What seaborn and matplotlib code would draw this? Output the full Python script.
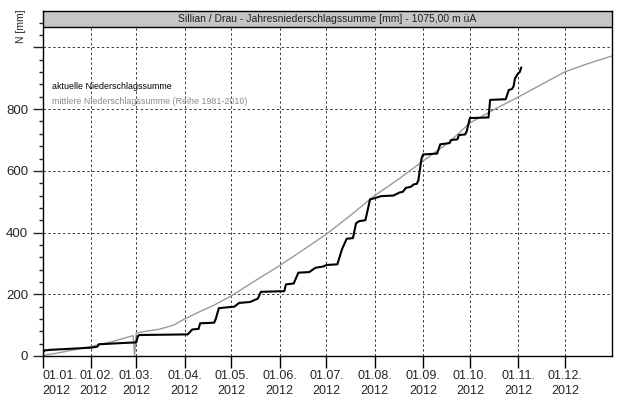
import pandas as pd
import seaborn as sns
import matplotlib.pyplot as plt
from matplotlib.patches import Rectangle
from matplotlib.transforms import ScaledTranslation

# day offsets from 01.01.2012 and cumulative sums in mm
actual_days = [0, 1, 5, 31, 35, 36, 55, 60, 61, 62, 93, 96, 100, 101, 110, 111, 113,
               123, 126, 133, 138, 140, 155, 156, 161, 164, 171, 175, 180, 182, 189,
               192, 195, 199, 201, 203, 207, 210, 212, 217, 225, 229, 231, 233, 236,
               238, 240, 241, 243, 244, 253, 255, 261, 262, 266, 267, 271, 272, 274,
               286, 287, 297, 299, 301, 302, 303, 305, 306, 307]
actual_mm = [8, 18, 20, 27, 30, 38, 43, 44, 64, 68, 70, 86, 88, 106, 108, 120, 155,
             160, 172, 175, 186, 208, 210, 232, 235, 270, 272, 286, 290, 295, 297,
             346, 380, 382, 430, 437, 440, 508, 510, 518, 520, 530, 532, 545, 548,
             556, 558, 570, 640, 653, 656, 686, 690, 700, 702, 716, 718, 728, 771,
             773, 830, 832, 862, 865, 873, 900, 916, 920, 935]

mean_days = [0, 10, 20, 31, 45, 58, 59, 60, 66, 75, 84, 91, 100, 110, 121, 135, 152,
             166, 182, 196, 213, 228, 244, 260, 274, 290, 305, 320, 335, 350, 365]
mean_mm = [2, 10, 20, 31, 47, 66, 0, 74, 80, 87, 100, 120, 142, 165, 195, 240, 293,
           340, 395, 450, 520, 572, 632, 690, 755, 800, 839, 880, 921, 948, 972]

month_labels = ['01.01.\n2012', '01.02.\n2012', '01.03.\n2012', '01.04.\n2012',
                '01.05.\n2012', '01.06.\n2012', '01.07.\n2012', '01.08.\n2012',
                '01.09.\n2012', '01.10.\n2012', '01.11.\n2012', '01.12.\n2012']
y_labels = ['0', '200', '400', '600', '800', '']

title = 'Sillian / Drau - Jahresniederschlagssumme [mm] - 1075,00 m üA'

start = pd.Timestamp('2012-01-01')
actual = pd.DataFrame({'date': start + pd.to_timedelta(actual_days, unit='D'), 'mm': actual_mm})
mean = pd.DataFrame({'date': start + pd.to_timedelta(mean_days, unit='D'), 'mm': mean_mm})

sns.set_style('ticks')
plt.rcParams['font.family'] = ['Liberation Sans', 'DejaVu Sans']

fig = plt.figure(figsize=(6.2, 4.04), dpi=100)
ax = fig.add_axes([42.7 / 620, 1 - 356 / 404, 569 / 620, 345 / 404])

sns.lineplot(data=mean, x='date', y='mm', color='#9a9a9a', linewidth=1.0,
             estimator=None, sort=False, ax=ax)
sns.lineplot(data=actual, x='date', y='mm', color='black', linewidth=1.5,
             estimator=None, sort=False, ax=ax)

ax.set_xlim(start, pd.Timestamp('2012-12-31'))
ax.set_ylim(0, 1118)
ax.set_xlabel('')
ax.set_ylabel('')

months = pd.date_range('2012-01-01', periods=12, freq='MS')
ax.set_xticks(months, labels=month_labels)
ax.set_yticks(range(0, 1001, 200), labels=y_labels)
ax.set_yticks(range(0, 1081, 40), minor=True)
ax.tick_params(axis='x', length=8.5, width=1, pad=1.5, labelsize=9, color='black')
ax.tick_params(axis='y', which='major', length=7, width=1, pad=3.5, labelsize=9.5)
ax.tick_params(axis='y', which='minor', length=3.2, width=1)
for lab in ax.get_xticklabels():
    lab.set_linespacing(1.35)

ax.grid(True, which='major', color='#383838', linestyle=(0, (2.5, 2.5)), linewidth=0.7)
for side in ['left', 'right', 'top', 'bottom']:
    ax.spines[side].set_visible(True)
    ax.spines[side].set_color('black')
    ax.spines[side].set_linewidth(1)

# grey title bar at the top of the plot frame
bar_y = 1066 / 1118
ax.add_patch(Rectangle((0, bar_y), 1, 1 - bar_y, transform=ax.transAxes,
                       facecolor='#c6c6c6', edgecolor='black', linewidth=1, zorder=5))
ax.text(0.5, (1 + bar_y) / 2, title, transform=ax.transAxes, ha='center', va='center',
        fontsize=7.5, color='#202020', zorder=6)

ax.text(0.0163, 0.7826, 'aktuelle Niederschlagssumme', transform=ax.transAxes,
        ha='left', va='center', fontsize=6.4, color='black')
ax.text(0.0163, 0.7377, 'mittlere Niederschlagssumme (Reihe 1981-2010)',
        transform=ax.transAxes, ha='left', va='center', fontsize=6.4, color='#8a8a8a')

fig.text(21.5 / 620, 1 - 26 / 404, 'N [mm]', rotation=90, ha='center', va='center',
         fontsize=7.5)

# first two date labels sit squeezed together like in the original
fig.canvas.draw()
xlabs = ax.get_xticklabels()
xlabs[0].set_horizontalalignment('left')
xlabs[1].set_horizontalalignment('left')
xlabs[1].set_transform(xlabs[1].get_transform()
                       + ScaledTranslation(-12 / 100, 0, fig.dpi_scale_trans))

fig.savefig('out.png', dpi=100)
